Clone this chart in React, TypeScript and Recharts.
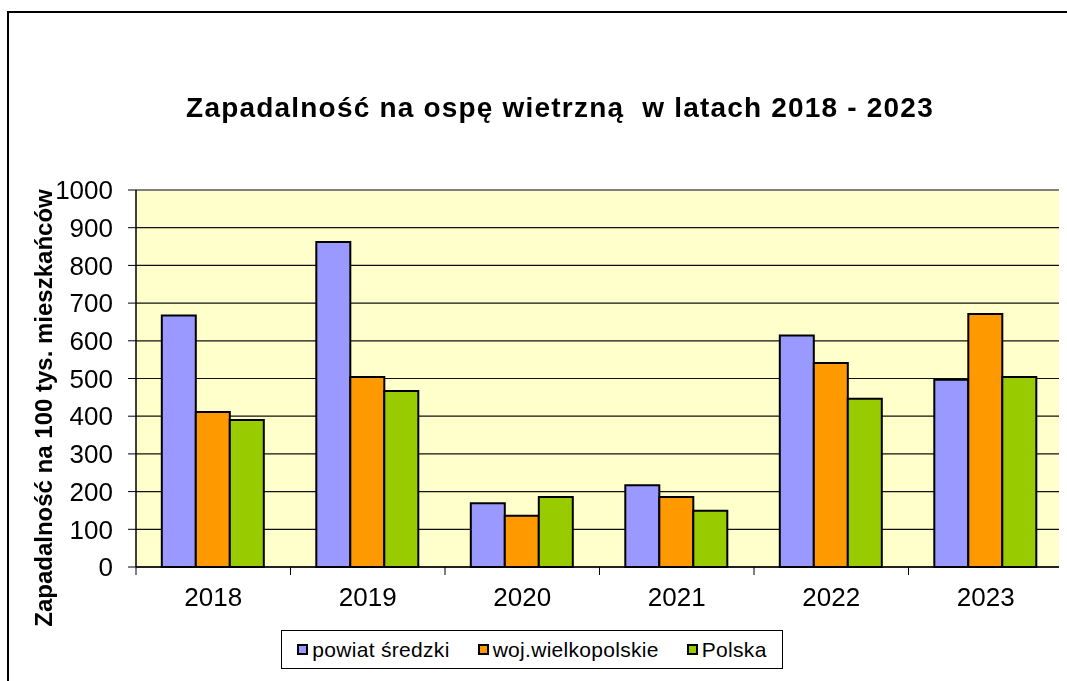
import React from 'react';
import { BarChart, Bar, XAxis, YAxis, CartesianGrid, Legend } from 'recharts';

const years = ['2018', '2019', '2020', '2021', '2022', '2023'];
const powiatSredzki = [667, 862, 169, 217, 614, 497];
const wojWielkopolskie = [411, 504, 136, 186, 541, 671];
const polska = [390, 467, 186, 149, 446, 504];
const yTicks = [0, 100, 200, 300, 400, 500, 600, 700, 800, 900, 1000];

const seriesList = [
  { key: 'powiat', name: 'powiat średzki', color: '#9999FF' },
  { key: 'woj', name: 'woj.wielkopolskie', color: '#FF9900' },
  { key: 'polska', name: 'Polska', color: '#99CC00' },
];

const data = years.map((year, i) => ({
  year,
  powiat: powiatSredzki[i],
  woj: wojWielkopolskie[i],
  polska: polska[i],
}));

const FONT = '"Liberation Sans", Arial, sans-serif';
const TICK_SIZE = 8;
const TICK_MARGIN = 13;

function XTick(props: any) {
  const { x, y, payload, index, visibleTicksCount } = props;
  const half = payload.offset || 0;
  const axisY = y - TICK_SIZE - TICK_MARGIN;
  return (
    <g>
      <line x1={x - half} x2={x - half} y1={axisY} y2={axisY + TICK_SIZE} stroke="#000" />
      {index === visibleTicksCount - 1 && (
        <line x1={x + half} x2={x + half} y1={axisY} y2={axisY + TICK_SIZE} stroke="#000" />
      )}
      <text x={x} y={y} dy="0.71em" textAnchor="middle" fontSize={26} fontFamily={FONT} fill="#000">
        {payload.value}
      </text>
    </g>
  );
}

function LegendBox() {
  return (
    <div
      style={{
        boxSizing: 'border-box',
        width: 502,
        height: 39,
        border: '1px solid #000',
        background: '#fff',
        display: 'flex',
        alignItems: 'center',
        justifyContent: 'center',
        gap: 28,
        fontFamily: FONT,
        fontSize: 21,
        color: '#000',
      }}
    >
      {seriesList.map((s) => (
        <div key={s.key} style={{ display: 'flex', alignItems: 'center' }}>
          <span
            style={{
              display: 'inline-block',
              boxSizing: 'border-box',
              width: 11,
              height: 11,
              background: s.color,
              border: '2px solid #000',
              marginRight: 4,
            }}
          />
          <span style={{ letterSpacing: 0.3 }}>{s.name}</span>
        </div>
      ))}
    </div>
  );
}

export default function App() {
  return (
    <div style={{ position: 'relative', width: 1059, height: 664 }}>
      <div
        style={{
          position: 'fixed',
          left: 7,
          top: 11,
          right: 0,
          bottom: 0,
          borderLeft: '2px solid #000',
          borderTop: '2px solid #000',
          pointerEvents: 'none',
        }}
      />
      <svg style={{ position: 'absolute', left: 0, top: 0 }} width={1059} height={140}>
        <text
          x={552}
          y={109}
          textAnchor="middle"
          fontFamily={FONT}
          fontWeight="bold"
          fontSize={28}
          letterSpacing={1.2}
          fill="#000"
          style={{ whiteSpace: 'pre' }}
        >
          Zapadalność na ospę wietrzną  w latach 2018 - 2023
        </text>
      </svg>
      <BarChart
        width={1059}
        height={664}
        data={data}
        margin={{ top: 182, right: 4, left: 0, bottom: 65 }}
        barCategoryGap="16.7%"
        barGap={0}
      >
        <CartesianGrid vertical={false} stroke="#111" strokeWidth={1.2} fill="#FFFFCC" fillOpacity={1} />
        <CartesianGrid
          stroke="#808080"
          strokeWidth={1.5}
          horizontalCoordinatesGenerator={({ offset }: any) => [offset.top]}
          verticalCoordinatesGenerator={({ offset }: any) => [offset.left + offset.width]}
        />
        <XAxis
          dataKey="year"
          height={40}
          tickLine={false}
          tickSize={TICK_SIZE}
          tickMargin={TICK_MARGIN}
          axisLine={{ stroke: '#000', strokeWidth: 1.5 }}
          tick={<XTick />}
          interval={0}
        />
        <YAxis
          width={128}
          domain={[0, 1000]}
          ticks={yTicks}
          interval={0}
          tickSize={TICK_SIZE}
          tickMargin={15}
          axisLine={{ stroke: '#000', strokeWidth: 1.5 }}
          tickLine={{ stroke: '#000' }}
          tick={{ fontSize: 26, fontFamily: FONT, fill: '#000' }}
          label={{
            content: () => (
              <text
                x={35}
                y={400}
                transform="rotate(-90, 35, 400)"
                textAnchor="middle"
                dominantBaseline="central"
                fontFamily={FONT}
                fontWeight="bold"
                fontSize={24}
                fill="#000"
              >
                Zapadalność na 100 tys. mieszkańców
              </text>
            ),
          }}
        />
        {seriesList.map((s) => (
          <Bar
            key={s.key}
            dataKey={s.key}
            name={s.name}
            fill={s.color}
            stroke="#000"
            strokeWidth={2}
            isAnimationActive={false}
          />
        ))}
        <Legend
          layout="horizontal"
          verticalAlign="middle"
          align="center"
          wrapperStyle={{ top: 622, left: 273, width: 502, height: 39 }}
          content={() => <LegendBox />}
        />
      </BarChart>
    </div>
  );
}
